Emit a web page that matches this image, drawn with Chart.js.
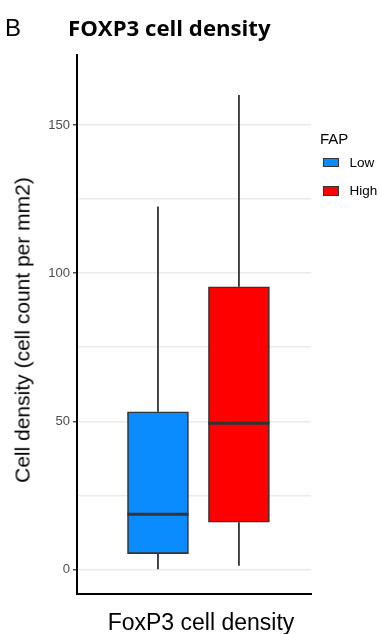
<!DOCTYPE html>
<html>
<head>
<meta charset="utf-8">
<script src="https://cdn.jsdelivr.net/npm/chart.js@4.4.1/dist/chart.umd.min.js"></script>
<style>
  body { margin: 0; background: #fff; }
  #wrap { position: relative; width: 380px; height: 634px; overflow: hidden; font-family: "Liberation Sans", Arial, sans-serif; }
  #c { position: absolute; left: 0; top: 0; }
  .txt { position: absolute; white-space: nowrap; line-height: 1; color: #000; }
  #panel { left: 5px; top: 16px; font-size: 24px; }
  #title { left: 68px; top: 16.5px; font-size: 22.2px; font-weight: bold; font-family: "Open Sans", sans-serif; }
  #xtitle { left: 201px; top: 611px; font-size: 23px; transform: translateX(-50%); }
  #ytitle { left: 21.6px; top: 330px; font-size: 21px; transform: translate(-50%, -50%) rotate(-90deg); }
  #legend { position: absolute; left: 320px; top: 131px; }
  #legend .head { font-size: 15px; line-height: 1; margin-bottom: 2px; }
  #legend .item { display: flex; align-items: center; height: 28.5px; }
  #legend .sw { width: 14px; height: 7.5px; border: 1.5px solid #333; margin-left: 2.5px; margin-right: 11px; }
  #legend .lab { font-size: 13.5px; }
</style>
</head>
<body>
<div id="wrap">
  <canvas id="c" width="380" height="634"></canvas>
  <div class="txt" id="panel">B</div>
  <div class="txt" id="title">FOXP3 cell density</div>
  <div class="txt" id="ytitle">Cell density (cell count per mm2)</div>
  <div class="txt" id="xtitle">FoxP3 cell density</div>
  <div id="legend"></div>
</div>
<script>
// FAP groups and box statistics
const groups = ['Low', 'High'];
const groupColors = ['#0a8cff', '#ff0000'];
const groupX = [1, 2];
const whiskerLow = [0, 1.2];
const q1 = [5.3, 15.9];
const median = [18.6, 49.3];
const q3 = [53.2, 95.4];
const whiskerHigh = [122.5, 160.2];
const yTickLabels = [0, 50, 100, 150];

// legend
const legend = document.getElementById('legend');
legend.innerHTML = '<div class="head">FAP</div>' + groups.map((g, i) =>
    `<div class="item"><span class="sw" style="background:${groupColors[i]}"></span><span class="lab">${g}</span></div>`
).join('');

// whiskers behind the boxes, medians on top
const boxWhiskers = {
    id: 'boxWhiskers',
    beforeDatasetsDraw(chart) {
        const y = chart.scales.y;
        const ctx = chart.ctx;
        ctx.save();
        ctx.strokeStyle = '#333';
        ctx.lineWidth = 1.8;
        groups.forEach((g, i) => {
            const bar = chart.getDatasetMeta(i).data[0];
            ctx.beginPath();
            ctx.moveTo(bar.x, y.getPixelForValue(whiskerLow[i]));
            ctx.lineTo(bar.x, y.getPixelForValue(q1[i]));
            ctx.moveTo(bar.x, y.getPixelForValue(q3[i]));
            ctx.lineTo(bar.x, y.getPixelForValue(whiskerHigh[i]));
            ctx.stroke();
        });
        ctx.restore();
    },
    afterDatasetsDraw(chart) {
        const y = chart.scales.y;
        const ctx = chart.ctx;
        ctx.save();
        ctx.strokeStyle = '#333';
        ctx.lineWidth = 3;
        groups.forEach((g, i) => {
            const bar = chart.getDatasetMeta(i).data[0];
            const py = y.getPixelForValue(median[i]);
            ctx.beginPath();
            ctx.moveTo(bar.x - bar.width / 2, py);
            ctx.lineTo(bar.x + bar.width / 2, py);
            ctx.stroke();
        });
        ctx.restore();
    }
};

new Chart(document.getElementById('c'), {
    type: 'bar',
    data: {
        datasets: groups.map((g, i) => ({
            label: g,
            data: [{ x: groupX[i], y: [q1[i], q3[i]] }],
            backgroundColor: groupColors[i],
            borderColor: '#333',
            borderWidth: 1.6,
            borderSkipped: false,
            barThickness: 61,
            grouped: false
        }))
    },
    options: {
        responsive: false,
        animation: false,
        layout: { padding: { top: 55, right: 69, left: 0, bottom: 0 } },
        plugins: { legend: { display: false }, tooltip: { enabled: false } },
        scales: {
            x: {
                type: 'linear',
                offset: false,
                min: 0,
                max: 2.89,
                ticks: { display: false, stepSize: 1, includeBounds: false },
                grid: { display: false },
                border: { display: true, color: '#000', width: 2 },
                afterFit: (s) => { s.height = 40; }
            },
            y: {
                min: -8.34,
                max: 173.7,
                ticks: {
                    stepSize: 25,
                    includeBounds: false,
                    padding: 3,
                    color: '#4d4d4d',
                    font: { family: 'Liberation Sans', size: 13 },
                    callback: (v) => yTickLabels.includes(v) ? v : ''
                },
                grid: {
                    color: '#ebebeb',
                    lineWidth: 1.5,
                    tickLength: 4,
                    tickWidth: 1.3,
                    tickColor: (c) => yTickLabels.includes(c.tick.value) ? '#333' : 'rgba(0,0,0,0)'
                },
                border: { display: true, color: '#000', width: 2 },
                afterFit: (s) => { s.width = 77; }
            }
        }
    },
    plugins: [boxWhiskers]
});
</script>
</body>
</html>
